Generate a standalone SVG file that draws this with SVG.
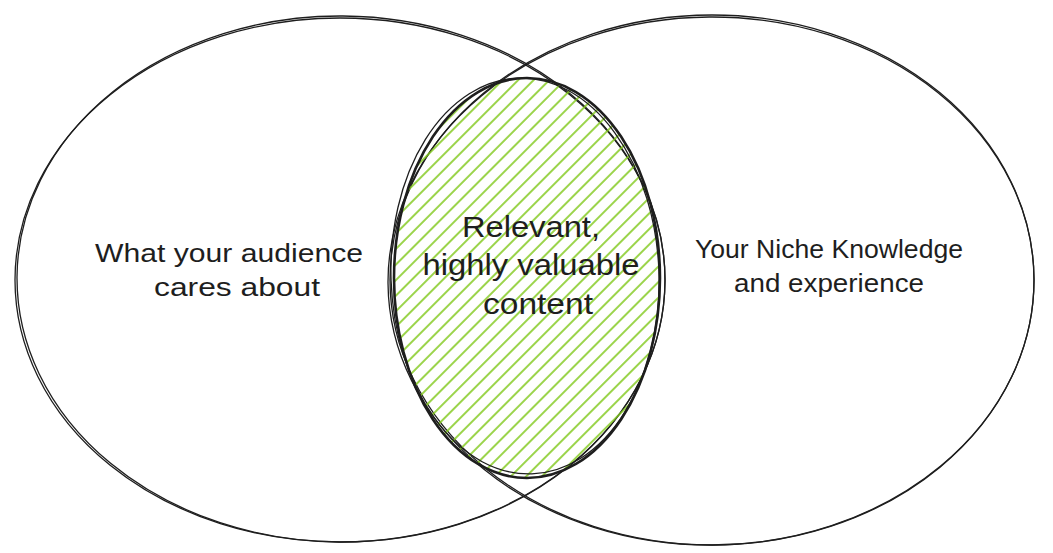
<svg xmlns="http://www.w3.org/2000/svg" width="1053" height="553" viewBox="0 0 1053 553">
<style>
.outline{fill:none;stroke:#1e1e1e;stroke-width:1.3}
.thick{fill:none;stroke:#1e1e1e;stroke-width:2.6}
.lbl{font-family:"Liberation Sans",Arial,sans-serif;font-size:25px;fill:#1e1e1e;text-anchor:middle}
.big{font-size:29px}
</style>
<defs>
<pattern id="hatch" patternUnits="userSpaceOnUse" width="11" height="11" patternTransform="rotate(-45)">
<line x1="0" y1="5" x2="11" y2="5" stroke="#82c91e" stroke-width="1.6"/>
</pattern>
<clipPath id="cclip"><ellipse cx="527" cy="278" rx="133" ry="200"/></clipPath>
</defs>
<rect width="1053" height="553" fill="#ffffff"/>
<g id="left-circle">
<ellipse class="outline" cx="340" cy="280" rx="325" ry="262"/>
<ellipse class="outline" cx="341" cy="279" rx="324" ry="263" transform="rotate(0.4 340 280)"/>
</g>
<g id="right-circle">
<ellipse class="outline" cx="712" cy="280" rx="322" ry="265"/>
<ellipse class="outline" cx="711" cy="281" rx="323" ry="264" transform="rotate(-0.4 712 280)"/>
</g>
<g id="center">
<rect x="390" y="75" width="280" height="410" fill="url(#hatch)" clip-path="url(#cclip)"/>
<ellipse class="thick" cx="527" cy="278" rx="133" ry="200"/>
<ellipse class="outline" cx="525" cy="276" rx="134" ry="198" transform="rotate(-2 525 276)"/>
<text class="lbl big" x="531" y="237" textLength="138" lengthAdjust="spacingAndGlyphs">Relevant,</text>
<text class="lbl big" x="531" y="275" textLength="217" lengthAdjust="spacingAndGlyphs">highly valuable</text>
<text class="lbl big" x="538" y="314" textLength="110" lengthAdjust="spacingAndGlyphs">content</text>
</g>
<g id="left-label">
<text class="lbl" x="229" y="262" textLength="268" lengthAdjust="spacingAndGlyphs">What your audience</text>
<text class="lbl" x="237" y="296" textLength="166" lengthAdjust="spacingAndGlyphs">cares about</text>
</g>
<g id="right-label">
<text class="lbl" x="829" y="258" textLength="268" lengthAdjust="spacingAndGlyphs">Your Niche Knowledge</text>
<text class="lbl" x="829" y="292" textLength="190" lengthAdjust="spacingAndGlyphs">and experience</text>
</g>
<g id="connectors"></g>
</svg>
